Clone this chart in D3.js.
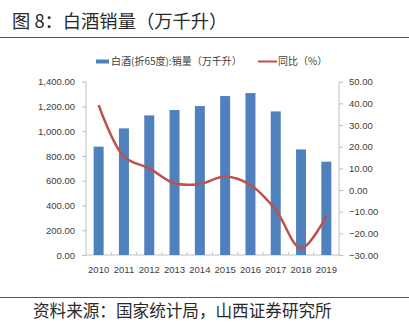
<!DOCTYPE html>
<html><head><meta charset="utf-8">
<script src="https://cdn.jsdelivr.net/npm/d3@7"></script>
<style>body{margin:0;background:#fff}svg{display:block}</style>
</head><body>
<svg id="c" width="409" height="324"></svg>
<script>
const years = ["2010","2011","2012","2013","2014","2015","2016","2017","2018","2019"];
const sales = [875, 1023, 1128, 1171, 1203, 1284, 1308, 1160, 853, 754];
const yoy = [39.2, 15.4, 10.0, 3.1, 2.8, 6.2, 2.3, -9.2, -26.9, -12.0];
const leftTicks = [0,200,400,600,800,1000,1200,1400];
const rightTicks = [-30,-20,-10,0,10,20,30,40,50];
const title = "图 8：白酒销量（万千升）";
const source = "资料来源：国家统计局，山西证券研究所";
const legendBar = "白酒(折65度):销量（万千升）";
const legendLine = "同比（%）";

const svg = d3.select("#c");
const font = "'Liberation Sans','Noto Sans CJK SC',sans-serif";
const cjk = "'Noto Sans CJK SC',sans-serif";
const L = 86, R = 339, T = 81.7, B = 255;

svg.append("text").attr("x",12).attr("y",27.5).attr("font-family",cjk).attr("font-size",18.3).attr("fill","#2a2a2a").text(title);
svg.append("line").attr("x1",0).attr("x2",409).attr("y1",37.5).attr("y2",37.5).attr("stroke","#555").attr("stroke-width",1.2);
svg.append("line").attr("x1",0).attr("x2",409).attr("y1",297.5).attr("y2",297.5).attr("stroke","#555").attr("stroke-width",1.2);
svg.append("text").attr("x",33).attr("y",317).attr("font-family",cjk).attr("font-size",16.6).attr("fill","#2a2a2a").text(source);

const x = d3.scaleBand().domain(years).range([L,R]).paddingInner(0.6).paddingOuter(0.3);
const y = d3.scaleLinear().domain([0,1400]).range([B,T]);
const y2 = d3.scaleLinear().domain([-30,50]).range([B,T]);

const gl = svg.append("g").attr("transform",`translate(${L},0)`)
  .call(d3.axisLeft(y).tickValues(leftTicks).tickSize(4).tickPadding(7).tickFormat(d3.format(",.2f")));
const gr = svg.append("g").attr("transform",`translate(${R},0)`)
  .call(d3.axisRight(y2).tickValues(rightTicks).tickSize(4).tickPadding(6).tickFormat(d3.format(".2f")));
const gx = svg.append("g").attr("transform",`translate(0,${B})`)
  .call(d3.axisBottom(x).tickSize(0).tickPadding(11));
[gl,gr,gx].forEach(g=>{
  g.selectAll("path.domain").attr("stroke","#bfbfbf");
  g.selectAll(".tick line").attr("stroke","#bfbfbf");
  g.selectAll("text").attr("font-family",font).attr("font-size",9.5).attr("fill","#404040");
});
gl.select("path.domain").attr("d",`M0,${T}V${B}`);
gr.select("path.domain").attr("d",`M0,${T}V${B}`);
gx.select("path.domain").attr("d",`M${L},0H${R}`);
svg.append("g").selectAll("line").data(d3.range(1,years.length)).join("line")
  .attr("x1",d=>L + d*(R-L)/years.length).attr("x2",d=>L + d*(R-L)/years.length)
  .attr("y1",B).attr("y2",B-3).attr("stroke","#bfbfbf");

const bw = 10;
svg.append("g").selectAll("rect").data(years).join("rect")
  .attr("x",(d,i)=>x(d)+x.bandwidth()/2-bw/2).attr("width",bw)
  .attr("y",(d,i)=>y(sales[i])).attr("height",(d,i)=>B-y(sales[i]))
  .attr("fill","#4f81bd");

const line = d3.line().x((d,i)=>x(years[i])+x.bandwidth()/2).y(d=>y2(d)).curve(d3.curveCatmullRom.alpha(0.5));
svg.append("path").datum(yoy).attr("d",line).attr("fill","none").attr("stroke","#c0504d").attr("stroke-width",2.5).attr("stroke-linejoin","round");

svg.append("rect").attr("x",96).attr("y",59.5).attr("width",13).attr("height",4).attr("fill","#4f81bd");
svg.append("text").attr("x",111).attr("y",65).attr("font-family",cjk).attr("font-size",10).attr("fill","#404040").text(legendBar);
svg.append("line").attr("x1",258).attr("x2",277).attr("y1",61.5).attr("y2",61.5).attr("stroke","#c0504d").attr("stroke-width",2);
svg.append("text").attr("x",278).attr("y",65).attr("font-family",cjk).attr("font-size",10).attr("fill","#404040").text(legendLine);
</script>
</body></html>
